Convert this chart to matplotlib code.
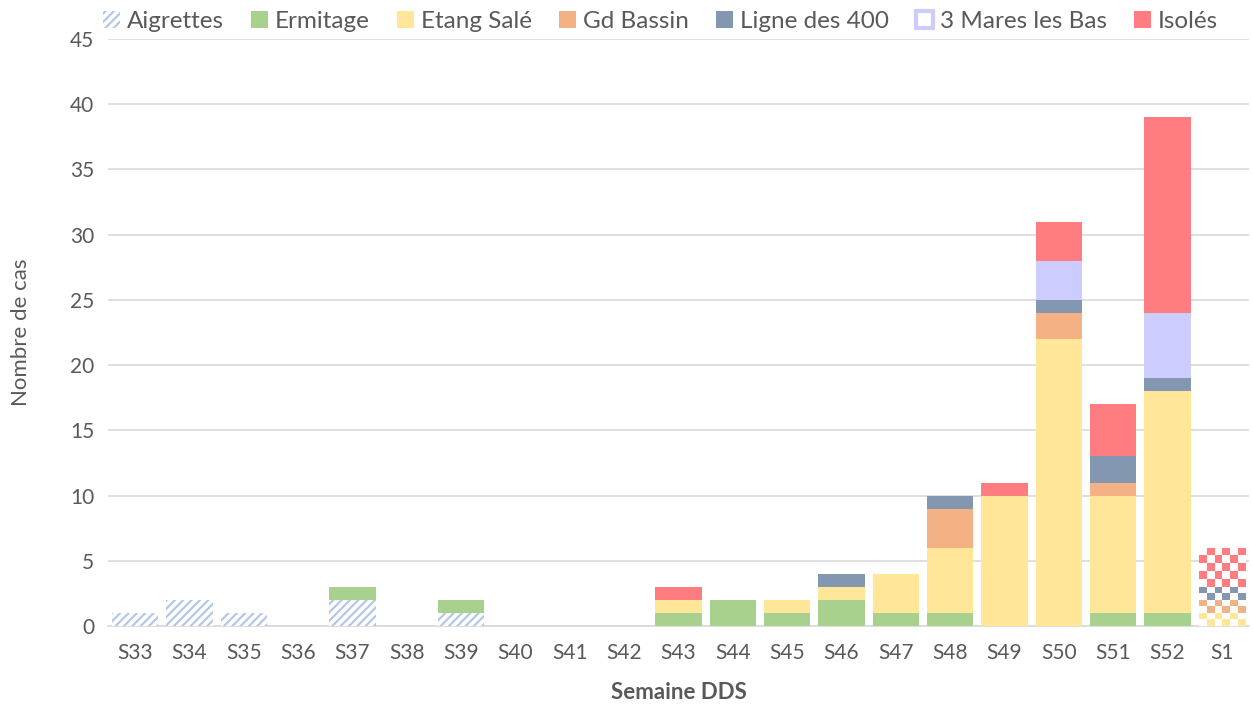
import numpy as np
import matplotlib
matplotlib.use('Agg')
import matplotlib.pyplot as plt
from matplotlib.patches import Patch

plt.rcParams['font.family'] = ['Lato', 'DejaVu Sans']
plt.rcParams['hatch.linewidth'] = 1.6

semaines = ['S33', 'S34', 'S35', 'S36', 'S37', 'S38', 'S39', 'S40', 'S41', 'S42',
            'S43', 'S44', 'S45', 'S46', 'S47', 'S48', 'S49', 'S50', 'S51', 'S52', 'S1']
aigrettes = [1, 2, 1, 0, 2, 0, 1, 0, 0, 0, 0, 0, 0, 0, 0, 0, 0, 0, 0, 0, 0]
ermitage = [0, 0, 0, 0, 1, 0, 1, 0, 0, 0, 1, 2, 1, 2, 1, 1, 0, 0, 1, 1, 0]
etang_sale = [0, 0, 0, 0, 0, 0, 0, 0, 0, 0, 1, 0, 1, 1, 3, 5, 10, 22, 9, 17, 1]
gd_bassin = [0, 0, 0, 0, 0, 0, 0, 0, 0, 0, 0, 0, 0, 0, 0, 3, 0, 2, 1, 0, 1]
ligne_400 = [0, 0, 0, 0, 0, 0, 0, 0, 0, 0, 0, 0, 0, 1, 0, 1, 0, 1, 2, 1, 1]
trois_mares = [0, 0, 0, 0, 0, 0, 0, 0, 0, 0, 0, 0, 0, 0, 0, 0, 0, 3, 0, 5, 0]
isoles = [0, 0, 0, 0, 0, 0, 0, 0, 0, 0, 1, 0, 0, 0, 0, 0, 1, 3, 4, 15, 3]

series = [('Aigrettes', aigrettes, '#B4C7E7'),
          ('Ermitage', ermitage, '#A9D18E'),
          ('Etang Salé', etang_sale, '#FFE699'),
          ('Gd Bassin', gd_bassin, '#F4B183'),
          ('Ligne des 400', ligne_400, '#8497B0'),
          ('3 Mares les Bas', trois_mares, '#CCCCFF'),
          ('Isolés', isoles, '#FF7C80')]

# last week (S1) is drawn checkered (incomplete data)
checker_idx = len(semaines) - 1

fig = plt.figure(figsize=(12.53, 7.08), dpi=100)
ax = fig.add_axes([0.0862, 0.1158, 0.9106, 0.8291])

x = np.arange(len(semaines))
bottom = np.zeros(len(semaines))
for name, vals, col in series:
    vals = np.array(vals, dtype=float)
    if name == 'Aigrettes':
        bars = ax.bar(x, vals, 0.85, bottom=bottom, color='white', edgecolor=col,
                      hatch='////', linewidth=0, zorder=3)
    else:
        bars = ax.bar(x, vals, 0.85, bottom=bottom, color=col, linewidth=0, zorder=3)
    # checker pattern for S1
    b = bars[checker_idx]
    if vals[checker_idx] > 0:
        b.set_facecolor('white')
        x0, y0 = b.get_x(), b.get_y()
        w, h = b.get_width(), b.get_height()
        nx = 6
        ny = max(int(round(h * 13.0 / 8.0)), 2)
        grid = (np.add.outer(np.arange(ny), np.arange(nx)) % 2).astype(float)
        cmap = matplotlib.colors.ListedColormap(['white', col])
        im = ax.imshow(grid, cmap=cmap, extent=(x0, x0 + w, y0, y0 + h),
                       origin='lower', aspect='auto', interpolation='nearest', zorder=3)
        im.set_clip_path(b)
    bottom += vals

ax.set_xlim(-0.5, len(semaines) - 0.5)
ax.set_ylim(0, 45)
ax.set_yticks(np.arange(0, 46, 5))
ax.set_xticks(x)
ax.set_xticklabels(semaines)
ax.yaxis.grid(True, color='#D9D9D9', linewidth=1.2, zorder=0)
ax.set_axisbelow(True)
for s in ['top', 'right', 'left']:
    ax.spines[s].set_visible(False)
ax.spines['bottom'].set_color('#D9D9D9')
ax.spines['bottom'].set_linewidth(1.2)
ax.tick_params(axis='both', length=0, labelsize=15, colors='#595959')
ax.tick_params(axis='x', pad=12)
ax.tick_params(axis='y', pad=10)
ax.set_ylabel('Nombre de cas', fontsize=16, color='#595959', labelpad=28)
ax.set_xlabel('Semaine DDS', fontsize=16, color='#595959', fontweight='bold', labelpad=14)

handles = []
for name, vals, col in series:
    if name == 'Aigrettes':
        handles.append(Patch(facecolor='white', edgecolor=col, hatch='////', linewidth=0, label=name))
    elif name == '3 Mares les Bas':
        handles.append(Patch(facecolor='white', edgecolor=col, linewidth=3, label=name))
    else:
        handles.append(Patch(facecolor=col, linewidth=0, label=name))
leg = fig.legend(handles=handles, loc='upper center', bbox_to_anchor=(0.527, 1.016), ncol=7,
                 frameon=False, fontsize=17.5, handlelength=0.7, handleheight=0.7,
                 handletextpad=0.3, columnspacing=1.1)
for t in leg.get_texts():
    t.set_color('#595959')

fig.savefig('out.png', dpi=100)
